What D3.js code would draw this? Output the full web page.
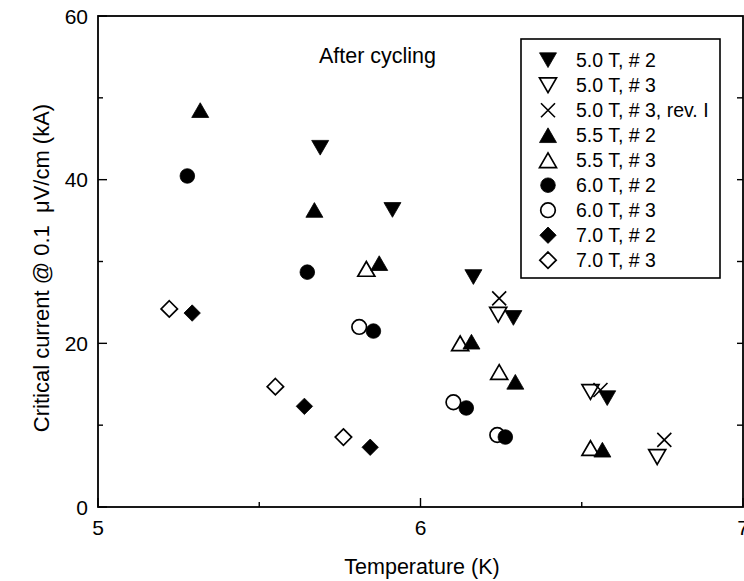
<!DOCTYPE html>
<html>
<head>
<meta charset="utf-8">
<script src="https://cdn.jsdelivr.net/npm/d3@7"></script>
<style>
  body { margin: 0; background: #fff; }
  svg { display: block; }
  text { font-family: "Liberation Sans", Arial, sans-serif; fill: #000; }
</style>
</head>
<body>
<svg id="chart" width="744" height="581"></svg>
<script>
// Axis ticks
const tempTicks = [5, 6, 7];
const tempMinor = [5.5, 6.5];
const currentTicks = [0, 20, 40, 60];
const currentMinor = [10, 30, 50];
const rightTicks = [10, 20, 30, 40, 50];

// Critical current (kA) vs temperature (K), sample #2 and #3 at each field
const t50_2 = [5.689, 5.913, 6.164, 6.288, 6.579];
const i50_2 = [43.9, 36.3, 28.1, 23.1, 13.3];
const t50_3 = [6.241, 6.527, 6.734];
const i50_3 = [23.5, 14.05, 6.1];
const t50_3r = [6.244, 6.558, 6.756];
const i50_3r = [25.5, 14.3, 8.2];
const t55_2 = [5.317, 5.671, 5.872, 6.158, 6.294, 6.564];
const i55_2 = [48.5, 36.3, 29.8, 20.2, 15.3, 7.0];
const t55_3 = [5.832, 6.123, 6.244, 6.527];
const i55_3 = [29.1, 20.0, 16.5, 7.2];
const t60_2 = [5.277, 5.649, 5.854, 6.142, 6.263];
const i60_2 = [40.45, 28.7, 21.5, 12.1, 8.55];
const t60_3 = [5.810, 6.102, 6.238];
const i60_3 = [22.0, 12.8, 8.8];
const t70_2 = [5.292, 5.640, 5.844];
const i70_2 = [23.7, 12.3, 7.3];
const t70_3 = [5.221, 5.550, 5.761];
const i70_3 = [24.2, 14.7, 8.55];

const seriesLabels = ["5.0 T, # 2", "5.0 T, # 3", "5.0 T, # 3, rev. I", "5.5 T, # 2", "5.5 T, # 3",
                      "6.0 T, # 2", "6.0 T, # 3", "7.0 T, # 2", "7.0 T, # 3"];

const series = [
  { label: seriesLabels[0], t: t50_2, ic: i50_2, shape: "down", filled: true },
  { label: seriesLabels[1], t: t50_3, ic: i50_3, shape: "down", filled: false },
  { label: seriesLabels[2], t: t50_3r, ic: i50_3r, shape: "cross", filled: false },
  { label: seriesLabels[3], t: t55_2, ic: i55_2, shape: "up", filled: true },
  { label: seriesLabels[4], t: t55_3, ic: i55_3, shape: "up", filled: false },
  { label: seriesLabels[5], t: t60_2, ic: i60_2, shape: "circle", filled: true },
  { label: seriesLabels[6], t: t60_3, ic: i60_3, shape: "circle", filled: false },
  { label: seriesLabels[7], t: t70_2, ic: i70_2, shape: "diamond", filled: true },
  { label: seriesLabels[8], t: t70_3, ic: i70_3, shape: "diamond", filled: false }
];

// Marker outlines, centred on the origin
function markerPath(shape) {
  const p = d3.path();
  if (shape === "up" || shape === "down") {
    const w = 17, h = w * 0.866, s = shape === "up" ? 1 : -1;
    p.moveTo(0, -s * h / 2);
    p.lineTo(w / 2, s * h / 2);
    p.lineTo(-w / 2, s * h / 2);
    p.closePath();
  } else if (shape === "circle") {
    p.arc(0, 0, 7.3, 0, 2 * Math.PI);
    p.closePath();
  } else if (shape === "diamond") {
    const r = 8.2;
    p.moveTo(0, -r); p.lineTo(r, 0); p.lineTo(0, r); p.lineTo(-r, 0); p.closePath();
  } else if (shape === "cross") {
    const r = 7;
    p.moveTo(-r, -r); p.lineTo(r, r);
    p.moveTo(r, -r); p.lineTo(-r, r);
  }
  return p.toString();
}

function styleMarker(sel, s) {
  if (s.shape === "cross") {
    sel.attr("fill", "none").attr("stroke", "#000").attr("stroke-width", 1.6);
  } else if (s.filled) {
    sel.attr("fill", "#000").attr("stroke", "#000").attr("stroke-width", 0.8);
  } else {
    sel.attr("fill", "#fff").attr("stroke", "#000").attr("stroke-width", 1.7);
  }
}

const svg = d3.select("#chart");
const plotL = 98, plotR = 743, plotT = 16, plotB = 507;

const x = d3.scaleLinear().domain([5, 7]).range([plotL, plotR]);
const y = d3.scaleLinear().domain([0, 60]).range([plotB, plotT]);

// Frame
svg.append("rect")
  .attr("x", plotL).attr("y", plotT)
  .attr("width", plotR - plotL).attr("height", plotB - plotT)
  .attr("fill", "none").attr("stroke", "#000").attr("stroke-width", 1.8);

// Bottom axis ticks (inward)
const gx = svg.append("g");
gx.selectAll("line.maj").data(tempTicks).join("line").attr("class", "maj")
  .attr("x1", d => x(d)).attr("x2", d => x(d))
  .attr("y1", plotB).attr("y2", plotB - 9)
  .attr("stroke", "#000").attr("stroke-width", 1.4);
gx.selectAll("line.min").data(tempMinor).join("line").attr("class", "min")
  .attr("x1", d => x(d)).attr("x2", d => x(d))
  .attr("y1", plotB).attr("y2", plotB - 5)
  .attr("stroke", "#000").attr("stroke-width", 1.4);
gx.selectAll("text").data(tempTicks).join("text")
  .attr("x", d => x(d)).attr("y", 535)
  .attr("text-anchor", "middle").attr("font-size", 21)
  .text(d => d);

// Left axis ticks (inward)
const gy = svg.append("g");
gy.selectAll("line.maj").data(currentTicks).join("line").attr("class", "maj")
  .attr("x1", plotL).attr("x2", plotL + 9)
  .attr("y1", d => y(d)).attr("y2", d => y(d))
  .attr("stroke", "#000").attr("stroke-width", 1.4);
gy.selectAll("line.min").data(currentMinor).join("line").attr("class", "min")
  .attr("x1", plotL).attr("x2", plotL + 5)
  .attr("y1", d => y(d)).attr("y2", d => y(d))
  .attr("stroke", "#000").attr("stroke-width", 1.4);
gy.selectAll("text").data(currentTicks).join("text")
  .attr("x", 88).attr("y", d => y(d) + 7.5)
  .attr("text-anchor", "end").attr("font-size", 21)
  .text(d => d);

// Right axis ticks (inward)
svg.append("g").selectAll("line").data(rightTicks).join("line")
  .attr("x1", plotR).attr("x2", plotR - 6)
  .attr("y1", d => y(d)).attr("y2", d => y(d))
  .attr("stroke", "#000").attr("stroke-width", 1.4);

// Axis titles
svg.append("text")
  .attr("x", 422).attr("y", 574)
  .attr("text-anchor", "middle").attr("font-size", 21.5)
  .text("Temperature (K)");

svg.append("text")
  .attr("transform", "translate(49,268) rotate(-90)")
  .attr("text-anchor", "middle").attr("font-size", 22)
  .style("white-space", "pre")
  .text("Critical current @ 0.1  \u03bcV/cm (kA)");

svg.append("text")
  .attr("x", 377.5).attr("y", 63)
  .attr("text-anchor", "middle").attr("font-size", 21.5)
  .text("After cycling");

// Data markers: open symbols first so filled ones sit on top
const drawOrder = [1, 4, 6, 8, 0, 3, 5, 7, 2];
const gm = svg.append("g");
drawOrder.forEach(k => {
  const s = series[k];
  const pts = s.t.map((tv, i) => ({ t: tv, ic: s.ic[i] }));
  gm.append("g").selectAll("path").data(pts).join("path")
    .attr("d", markerPath(s.shape))
    .attr("transform", d => `translate(${x(d.t)},${y(d.ic)})`)
    .call(sel => styleMarker(sel, s));
});

// Legend
const lg = svg.append("g");
lg.append("rect")
  .attr("x", 521).attr("y", 39).attr("width", 199).attr("height", 239)
  .attr("fill", "#fff").attr("stroke", "#000").attr("stroke-width", 1.6);
series.forEach((s, i) => {
  const base = 66.7 + i * 25;
  lg.append("path")
    .attr("d", markerPath(s.shape))
    .attr("transform", `translate(548,${base - 6.5})`)
    .call(sel => styleMarker(sel, s));
  lg.append("text")
    .attr("x", 576).attr("y", base)
    .attr("font-size", 19.5)
    .text(s.label);
});
</script>
</body>
</html>
